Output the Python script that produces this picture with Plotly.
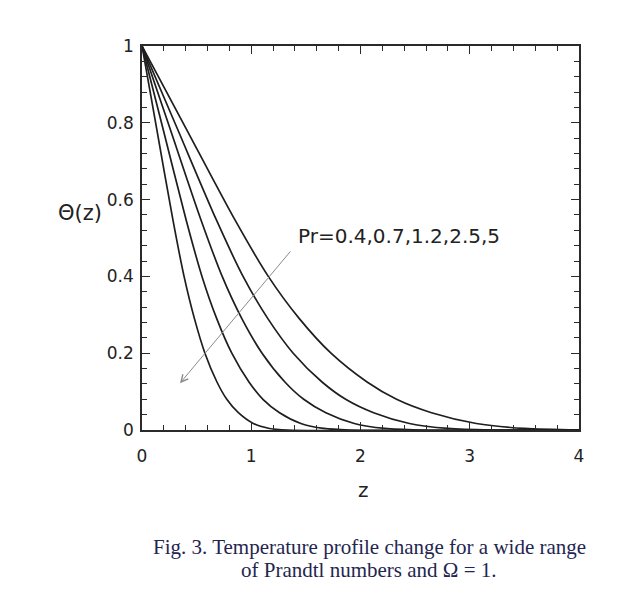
import plotly.graph_objects as go

# Theta(z) for each Prandtl number
z_pr04 = [0, 0.40, 0.851, 1.156, 1.44, 1.73, 2.06, 2.33, 2.65, 3.06, 3.5, 4.0]
theta_pr04 = [1, 0.787, 0.547, 0.40, 0.29, 0.20, 0.125, 0.08, 0.045, 0.017, 0.004, 0]

z_pr07 = [0, 0.32, 0.681, 0.925, 1.152, 1.384, 1.648, 1.864, 2.12, 2.448, 2.8, 3.2, 4.0]
theta_pr07 = [1, 0.787, 0.547, 0.40, 0.29, 0.20, 0.125, 0.08, 0.045, 0.017, 0.004, 0, 0]

z_pr12 = [0, 0.254, 0.540, 0.734, 0.914, 1.099, 1.308, 1.480, 1.683, 1.943, 2.223, 2.54, 4.0]
theta_pr12 = [1, 0.787, 0.547, 0.40, 0.29, 0.20, 0.125, 0.08, 0.045, 0.017, 0.004, 0, 0]

z_pr25 = [0, 0.19, 0.404, 0.549, 0.684, 0.822, 0.979, 1.107, 1.259, 1.454, 1.663, 1.9, 4.0]
theta_pr25 = [1, 0.787, 0.547, 0.40, 0.29, 0.20, 0.125, 0.08, 0.045, 0.017, 0.004, 0, 0]

z_pr5 = [0, 0.133, 0.283, 0.385, 0.48, 0.576, 0.686, 0.776, 0.882, 1.019, 1.166, 1.332, 4.0]
theta_pr5 = [1, 0.787, 0.547, 0.40, 0.29, 0.20, 0.125, 0.08, 0.045, 0.017, 0.004, 0, 0]

curves = [
    (z_pr5, theta_pr5),
    (z_pr25, theta_pr25),
    (z_pr12, theta_pr12),
    (z_pr07, theta_pr07),
    (z_pr04, theta_pr04),
]

label_text = "Pr=0.4,0.7,1.2,2.5,5"
caption_1 = "Fig. 3. Temperature profile change for a wide range"
caption_2 = "of Prandtl numbers and \u03a9 = 1."

fig = go.Figure()
for zs, ths in curves:
    fig.add_trace(go.Scatter(
        x=zs, y=ths, mode="lines",
        line=dict(color="#1e1e1e", width=1.7, shape="spline", smoothing=0.8),
        showlegend=False, hoverinfo="skip",
    ))

axis_common = dict(
    showline=True, linecolor="#2a2a2a", linewidth=1.5, mirror="ticks",
    ticks="inside", ticklen=8, tickwidth=1.3, tickcolor="#2a2a2a",
    showgrid=False, zeroline=False,
    tickfont=dict(family="DejaVu Sans", size=17, color="#222"),
)

fig.update_xaxes(
    range=[0, 4], tickvals=[0, 1, 2, 3, 4], ticktext=["0", "1", "2", "3", "4"],
    ticklabelstandoff=10,
    minor=dict(dtick=0.2, ticks="inside", ticklen=5, tickcolor="#2a2a2a", showgrid=False),
    **axis_common,
)
fig.update_yaxes(
    range=[0, 1], tickvals=[0, 0.2, 0.4, 0.6, 0.8, 1], ticktext=["0", "0.2", "0.4", "0.6", "0.8", "1"],
    ticklabelstandoff=3,
    minor=dict(dtick=0.04, ticks="inside", ticklen=5, tickcolor="#2a2a2a", showgrid=False),
    **axis_common,
)

# arrow through the curves, towards increasing Pr
fig.add_annotation(
    x=0.348, y=0.122, ax=1.37, ay=0.469, xref="x", yref="y", axref="x", ayref="y",
    text="", showarrow=True, arrowhead=5, arrowsize=1.4, arrowwidth=1, arrowcolor="#8a8a8a",
)
fig.add_annotation(
    x=1.405, y=0.505, xref="x", yref="y", text=label_text, showarrow=False,
    xanchor="left", yanchor="middle", font=dict(family="DejaVu Sans", size=20, color="#222"),
)
fig.add_annotation(
    x=-0.142, y=0.565, xref="paper", yref="y", text="\u0398(z)", showarrow=False,
    xanchor="center", yanchor="middle", font=dict(family="DejaVu Sans", size=21, color="#222"),
)
fig.add_annotation(
    x=0.506, y=-0.156, xref="paper", yref="paper", text="z", showarrow=False,
    xanchor="center", yanchor="middle", font=dict(family="DejaVu Sans", size=20, color="#222"),
)
for line, ypos in [(caption_1, -0.305), (caption_2, -0.365)]:
    fig.add_annotation(
        x=0.52, y=ypos, xref="paper", yref="paper", text=line, showarrow=False,
        xanchor="center", yanchor="middle",
        font=dict(family="Liberation Serif", size=21, color="#1f2650"),
    )

fig.update_layout(
    width=625, height=590,
    margin=dict(l=134, r=54, t=38, b=168),
    paper_bgcolor="white", plot_bgcolor="white",
)

fig.write_html("out.html")
